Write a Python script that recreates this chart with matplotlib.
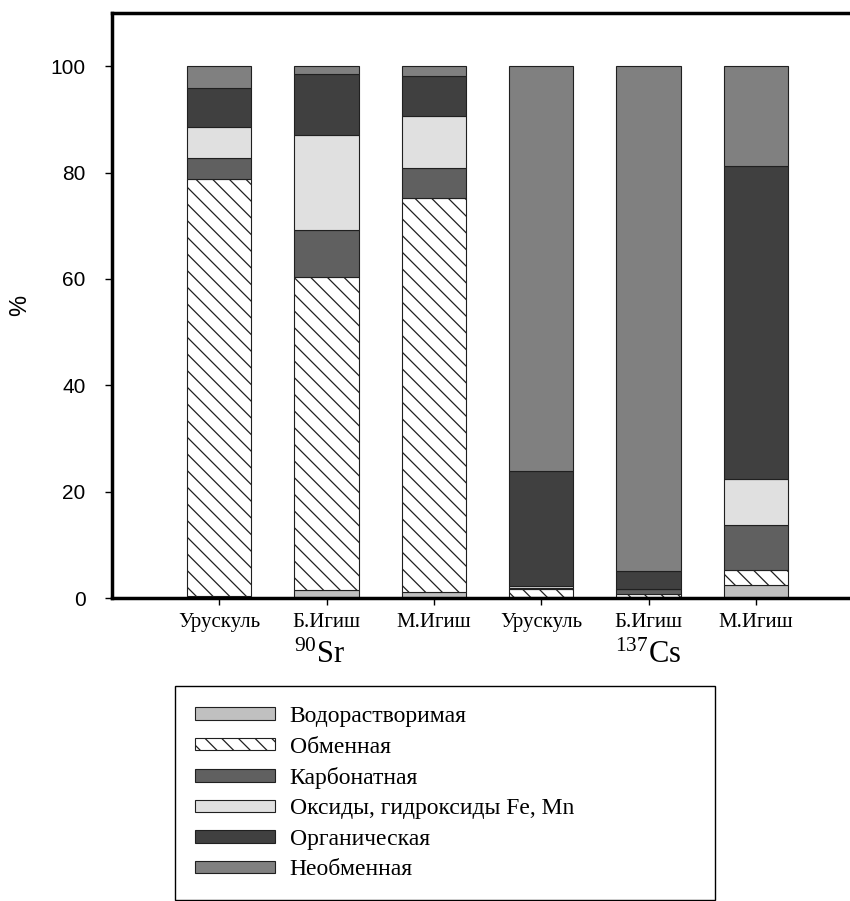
import numpy as np
import matplotlib
matplotlib.use('Agg')
import matplotlib.pyplot as plt
from matplotlib.patches import Patch

plt.rcParams['mathtext.fontset'] = 'custom'
plt.rcParams['mathtext.rm'] = 'Liberation Serif'
plt.rcParams['hatch.linewidth'] = 0.9

# sites (x axis) and isotope groups
sites = ['Урускуль', 'Б.Игиш', 'М.Игиш', 'Урускуль', 'Б.Игиш', 'М.Игиш']
groups = [r'$\mathrm{^{90}Sr}$', r'$\mathrm{^{137}Cs}$']
group_pos = [0.93, 4.0]

# fractions, %
fractions = ['Водорастворимая', 'Обменная', 'Карбонатная',
             'Оксиды, гидроксиды Fe, Mn', 'Органическая', 'Необменная']
vod = [0.4, 1.5, 1.2, 0.1, 0.1, 2.4]
obm = [78.4, 58.9, 74.0, 1.6, 0.6, 2.9]
karb = [4.0, 8.8, 5.6, 0.2, 0.9, 8.5]
oks = [5.7, 17.8, 9.9, 0.4, 0.1, 8.6]
org = [7.4, 11.5, 7.4, 21.6, 3.4, 58.9]
neob = [4.1, 1.5, 1.9, 76.1, 94.9, 18.7]

series = [vod, obm, karb, oks, org, neob]
colors = ['#c0c0c0', 'white', '#606060', '#e0e0e0', '#404040', '#808080']
hatches = [None, '\\\\', None, None, None, None]

fig = plt.figure(figsize=(8.5, 9.01), dpi=100)
ax = fig.add_axes([112/850, 303/901, 7*107.3/850, 585/901])

x = np.arange(len(sites))
bottom = np.zeros(len(sites))
for vals, c, h in zip(series, colors, hatches):
    ax.bar(x, vals, 0.6, bottom=bottom, color=c, edgecolor='#202020',
           linewidth=0.8, hatch=h)
    bottom += np.array(vals)

ax.set_xlim(-1, 6)
ax.set_ylim(0, 110)
ax.set_yticks([0, 20, 40, 60, 80, 100])
ax.set_yticklabels(['0', '20', '40', '60', '80', '100'],
                   family='Liberation Sans', fontsize=15)
ax.set_xticks(x)
ax.set_xticklabels(sites, family='Liberation Serif', fontsize=15)
ax.tick_params(axis='both', direction='out', length=5, width=1.0)
ax.tick_params(axis='y', pad=14)
ax.tick_params(axis='x', pad=6)
ax.set_ylabel('%', family='Liberation Sans', fontsize=17, labelpad=14)

for s in ['left', 'top', 'bottom']:
    ax.spines[s].set_linewidth(2.5)
ax.spines['right'].set_visible(False)

for g, p in zip(groups, group_pos):
    ax.text(p, -0.071, g, transform=ax.get_xaxis_transform(),
            ha='center', va='top', fontsize=22)

handles = [Patch(facecolor=c, edgecolor='#202020', linewidth=0.8, hatch=h)
           for c, h in zip(colors, hatches)]
leg = fig.legend(handles, fractions, loc='upper left',
                 bbox_to_anchor=(175/850, 1 - 686/901 - 0.01, 540/850, 0.01),
                 mode='expand', fancybox=False, edgecolor='black',
                 framealpha=1, prop={'family': 'Liberation Serif', 'size': 17},
                 handlelength=3.4, handleheight=0.45, labelspacing=0.4,
                 handletextpad=0.6, borderpad=0.85, borderaxespad=0)
leg.get_frame().set_linewidth(1.0)

plt.savefig('out.png', dpi=100)
